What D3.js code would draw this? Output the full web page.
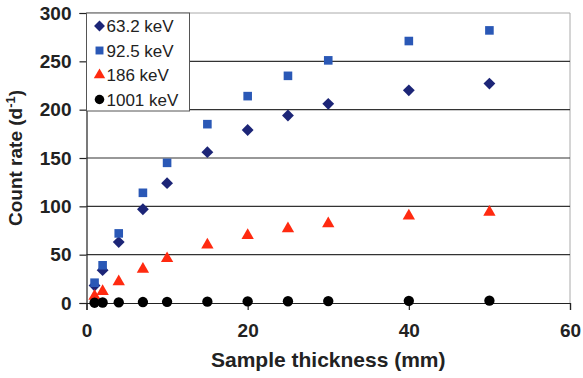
<!DOCTYPE html>
<html>
<head>
<meta charset="utf-8">
<script src="https://cdn.jsdelivr.net/npm/d3@7"></script>
<style>
  body { margin: 0; background: #fff; }
  svg { display: block; font-family: "Liberation Sans", Arial, sans-serif; }
</style>
</head>
<body>
<div id="chart"></div>
<script>
const thickness = [1, 2, 4, 7, 10, 15, 20, 25, 30, 40, 50]
const kev63 = [18, 34, 63, 97, 124, 156, 179, 194, 206, 220, 227]
const kev92 = [21, 39, 72, 114, 145, 185, 214, 235, 251, 271, 282]
const kev186 = [7, 12, 22, 35, 46, 60, 70, 77, 82, 90, 94]
const kev1001 = [0.3, 0.5, 0.7, 1, 1.2, 1.4, 1.6, 1.8, 2, 2.2, 2.4]

const seriesNames = ["63.2 keV", "92.5 keV", "186 keV", "1001 keV"]
const xTicks = [0, 20, 40, 60]
const yTicks = [0, 50, 100, 150, 200, 250, 300]

const width = 583, height = 378
const margin = { top: 13, right: 13, bottom: 75, left: 86.5 }

// diamond = square turned 45 degrees
const series = [
  { name: seriesNames[0], values: kev63, shape: d3.symbolSquare, rot: 45, color: "#1c2577", size: 70 },
  { name: seriesNames[1], values: kev92, shape: d3.symbolSquare, rot: 0, color: "#2a58b6", size: 74 },
  { name: seriesNames[2], values: kev186, shape: d3.symbolTriangle, rot: 0, color: "#ff2a10", size: 66 },
  { name: seriesNames[3], values: kev1001, shape: d3.symbolCircle, rot: 0, color: "#000000", size: 84 }
]

const svg = d3.select("#chart").append("svg")
  .attr("width", width)
  .attr("height", height)

const x = d3.scaleLinear().domain([0, 60]).range([margin.left, width - margin.right])
const y = d3.scaleLinear().domain([0, 300]).range([height - margin.bottom, margin.top])

// frame: top and right in light gray
svg.append("path")
  .attr("d", `M${x(0)},${y(300)}H${x(60)}V${y(0)}`)
  .attr("fill", "none")
  .attr("stroke", "#aaa")
  .attr("stroke-width", 1)

// gridlines
svg.append("g")
  .selectAll("line")
  .data(yTicks.filter(d => d > 0 && d < 300))
  .enter()
    .append("line")
    .attr("x1", x(0))
    .attr("x2", x(60))
    .attr("y1", d => y(d))
    .attr("y2", d => y(d))
    .attr("stroke", "#333")
    .attr("stroke-width", 1.2)

const styleAxis = (g) => {
  g.select(".domain").attr("stroke", "#222").attr("stroke-width", 1.2)
  g.selectAll(".tick line").attr("stroke", "#222").attr("stroke-width", 1.2)
  g.selectAll(".tick text")
    .attr("font-size", 19)
    .attr("font-weight", "bold")
    .attr("fill", "#222")
    .attr("font-family", "Liberation Sans, Arial, sans-serif")
}

// y axis
svg.append("g")
  .attr("transform", `translate(${x(0)},0)`)
  .call(d3.axisLeft(y).tickValues(yTicks).tickSize(7).tickPadding(8))
  .call(styleAxis)

// x axis
svg.append("g")
  .attr("transform", `translate(0,${y(0)})`)
  .call(d3.axisBottom(x).tickValues(xTicks).tickSize(7).tickPadding(14))
  .call(styleAxis)

// axis titles
svg.append("text")
  .attr("x", (x(0) + x(60)) / 2)
  .attr("y", 367)
  .attr("text-anchor", "middle")
  .attr("font-size", 21)
  .attr("font-weight", "bold")
  .attr("fill", "#222")
  .text("Sample thickness (mm)")

const yTitle = svg.append("text")
  .attr("transform", `translate(22,${(y(0) + y(300)) / 2}) rotate(-90)`)
  .attr("text-anchor", "middle")
  .attr("font-size", 19)
  .attr("font-weight", "bold")
  .attr("fill", "#222")
yTitle.append("tspan").text("Count rate (d")
yTitle.append("tspan").attr("dy", -7).attr("font-size", 13).text("-1")
yTitle.append("tspan").attr("dy", 7).text(")")

// points
series.forEach(s => {
  svg.append("g")
    .selectAll("path")
    .data(s.values)
    .enter()
      .append("path")
      .attr("transform", (d, i) => `translate(${x(thickness[i])},${y(d)}) rotate(${s.rot})`)
      .attr("d", d3.symbol().type(s.shape).size(s.size))
      .attr("fill", s.color)
})

// legend
const legend = svg.append("g").attr("transform", `translate(${x(0)},${y(300)})`)
legend.append("rect")
  .attr("width", 103)
  .attr("height", 98)
  .attr("fill", "#fff")
  .attr("stroke", "#555")
  .attr("stroke-width", 1)

const item = legend.selectAll("g.item")
  .data(series)
  .enter()
    .append("g")
    .attr("class", "item")
    .attr("transform", (d, i) => `translate(0,${13 + i * 24.5})`)
item.append("path")
  .attr("transform", d => `translate(13,0) rotate(${d.rot})`)
  .attr("d", d => d3.symbol().type(d.shape).size(d.size * 0.85)())
  .attr("fill", d => d.color)
item.append("text")
  .attr("x", 20)
  .attr("y", 6)
  .attr("font-size", 17)
  .attr("fill", "#222")
  .text(d => d.name)
</script>
</body>
</html>
